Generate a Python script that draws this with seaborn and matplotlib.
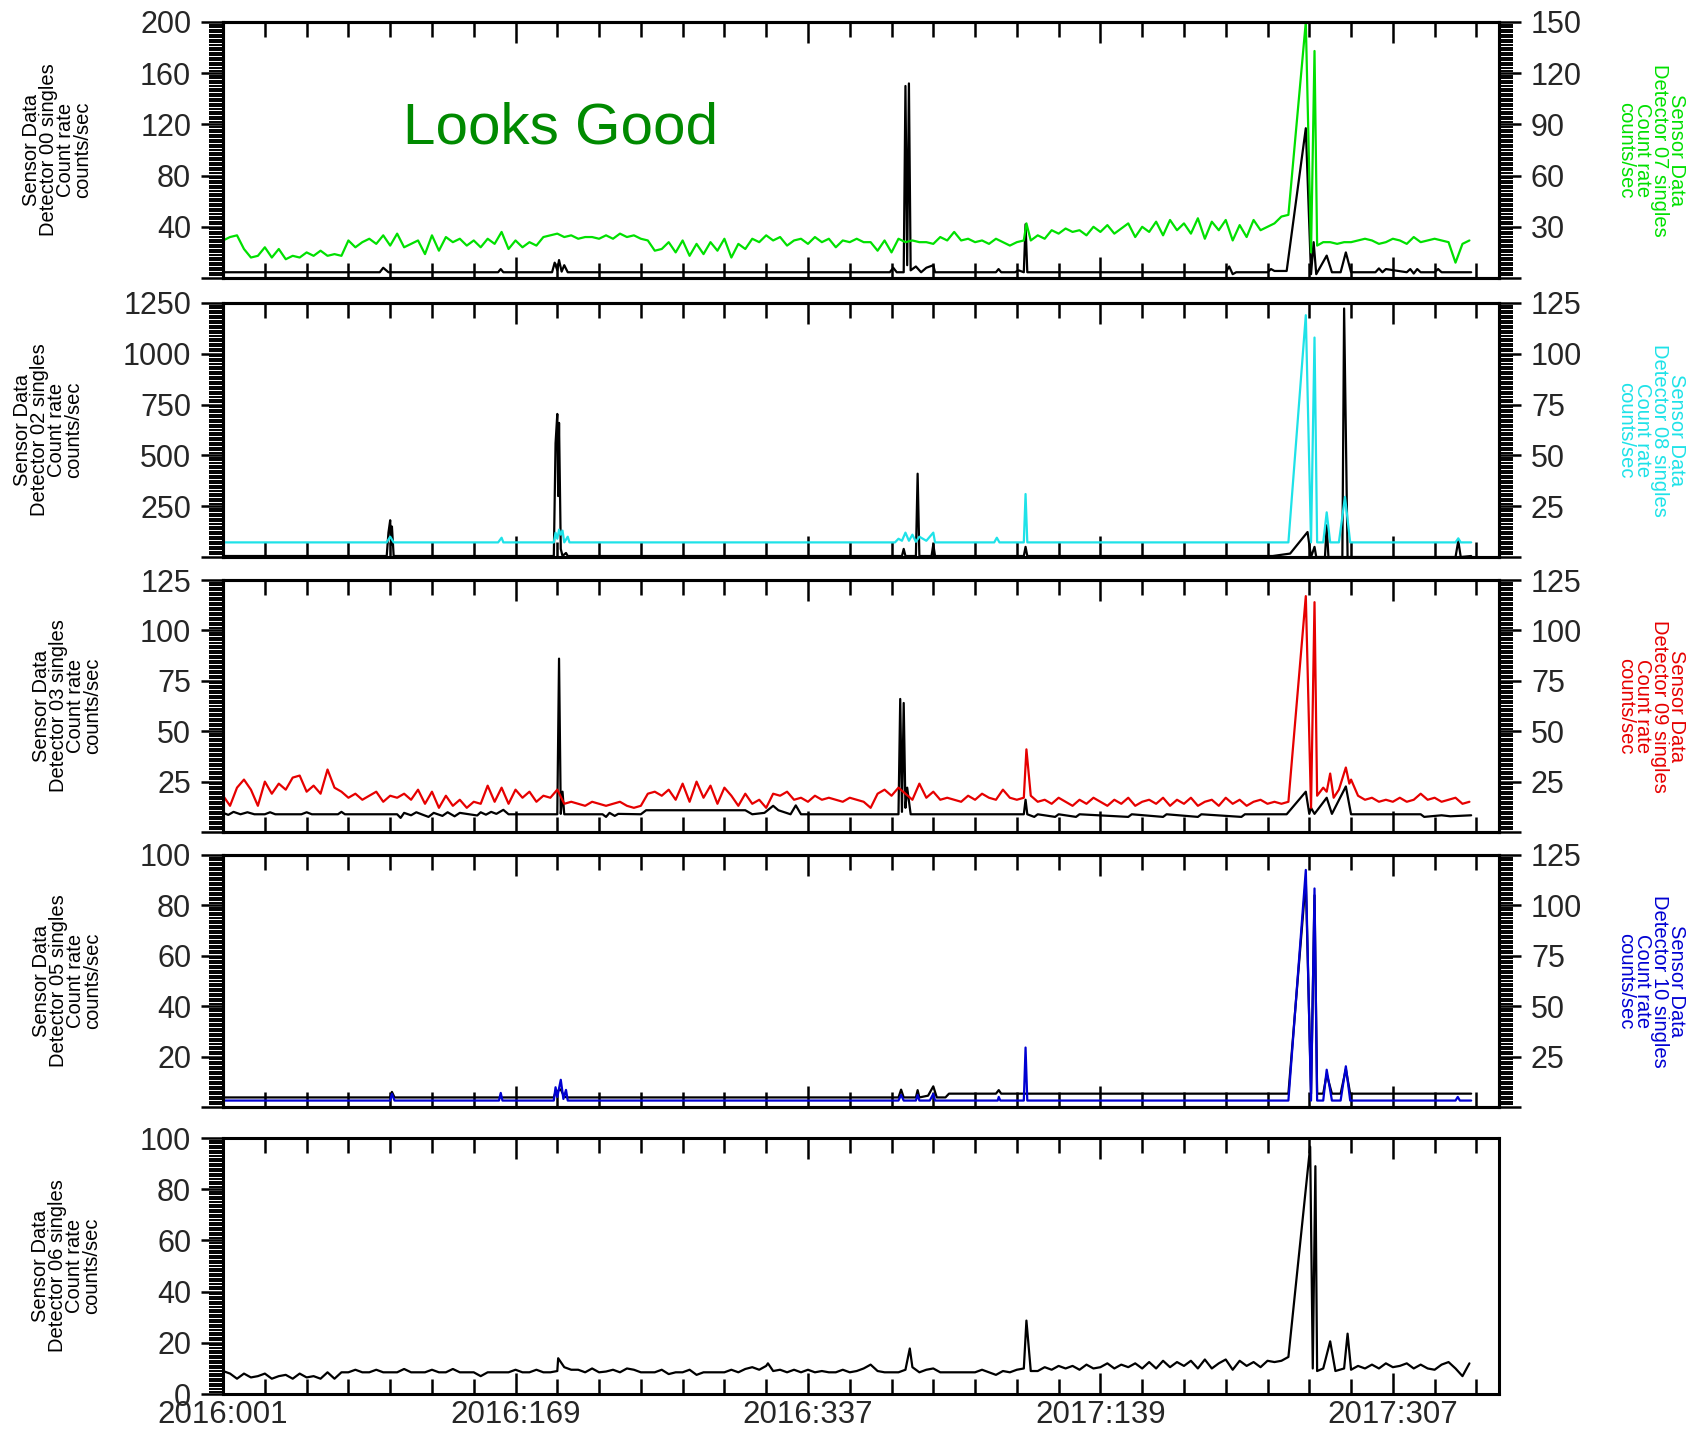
import numpy as np
import pandas as pd
import seaborn as sns
import matplotlib.pyplot as plt
from matplotlib.ticker import AutoMinorLocator, MultipleLocator

# x axis is days since 2016:001
xtick_days = [0, 168, 336, 504, 672]
xtick_labels = ["2016:001", "2016:169", "2016:337", "2017:139", "2017:307"]

# ---------------- panel 1: det 00 (black, left) / det 07 (green, right)
# det 07 sampled every 4 days from day 0 to 604
det07_vals = [22, 24, 25, 17, 12, 13, 18, 12, 17, 11,
              13, 12, 15, 13, 16, 13, 14, 13, 22, 18,
              21, 23, 20, 25, 19, 26, 18, 20, 22, 14,
              25, 16, 24, 21, 23, 19, 22, 18, 23, 20,
              27, 17, 22, 18, 21, 19, 24, 25, 26, 24,
              25, 23, 24, 24, 23, 25, 23, 26, 24, 25,
              23, 22, 16, 17, 21, 15, 22, 13, 20, 14,
              21, 16, 23, 12, 20, 17, 23, 21, 25, 22,
              24, 19, 22, 23, 20, 24, 21, 23, 18, 22,
              21, 23, 21, 21, 16, 22, 15, 23, 21, 22,
              21, 21, 20, 24, 22, 27, 22, 23, 21, 22,
              20, 23, 21, 19, 21, 22, 22, 25, 23, 28,
              26, 29, 27, 28, 25, 30, 27, 31, 26, 29,
              32, 24, 30, 27, 33, 25, 34, 28, 32, 26,
              35, 23, 33, 28, 34, 22, 31, 24, 34, 28,
              30, 32]
det07_ev_day = [461.5, 608, 612, 622, 625, 627, 628.5, 632, 636, 640, 644]
det07_ev_val = [32, 36, 37, 150, 15, 133, 19, 21, 21, 20, 21]
# every 4 days from day 648
det07_tail = [21, 22, 23, 22, 20, 21, 23, 22, 20, 24, 21, 22, 23, 22, 21, 9, 20, 22]

det00_day = [0, 90, 92, 95, 158, 159.5, 161, 189, 190.5, 192, 193, 194.5, 196, 198,
             383, 385, 387, 391, 392, 393, 394, 395, 398, 401, 404, 406, 408, 409,
             444, 445.5, 447, 455, 457, 460, 461, 462, 576, 578, 580, 582, 600, 602, 604,
             611, 622, 625, 626.5, 628, 634, 637, 642, 645, 648, 662, 664, 666, 668,
             680, 682, 684, 686, 688, 696, 698, 700, 717]
det00_val = [4.5, 4.5, 8, 4.5, 4.5, 7, 4.5, 4.5, 12, 6, 14, 5, 10, 4.5,
             4.5, 8, 4.5, 4.5, 150, 10, 152, 6, 9, 4.5, 8, 9, 10, 4.5,
             4.5, 7, 4.5, 4.5, 6, 4.5, 42, 4.5, 4.5, 9, 3, 4.5, 4.5, 7, 5.5,
             5.5, 117, 3, 28, 3, 17.5, 4.5, 4.5, 20, 4.5, 4.5, 7.5, 4.5, 7,
             4.5, 7, 3.5, 7, 4.5, 4.5, 7, 4.5, 4.5]

# ---------------- panel 2: det 02 (black, left) / det 08 (cyan, right)
det02_day = [0, 94, 95, 96, 96.5, 97, 98, 190, 191, 192, 192.5, 193, 194, 195, 197, 198,
             390, 391, 392, 398, 399, 400, 407, 408, 409, 460, 461, 462, 603, 613, 623,
             625, 627, 628, 633, 634, 635, 643, 644, 646, 708, 709.6, 711, 717]
det02_val = [5, 5, 120, 181, 60, 150, 5, 5, 560, 704, 300, 660, 40, 5, 20, 5,
             5, 40, 5, 5, 410, 5, 5, 62, 5, 5, 50, 5, 5, 17, 123,
             0, 50, 0, 0, 156, 0, 0, 1223, 0, 0, 80, 0, 5]
det08_day = [0, 94, 96, 98, 158, 160, 161, 190, 191, 192, 193, 194, 195, 196, 198, 199,
             386, 388, 390, 392, 394, 396, 398, 400, 404, 408, 409, 443, 444.5, 446,
             460, 461, 462, 612, 622, 625, 627, 628.5, 632, 634, 636, 641, 644.5, 647.5,
             708, 709.6, 711, 717]
det08_val = [7.2, 7.2, 10, 7.2, 7.2, 9.5, 7.2, 7.2, 12, 9, 13.5, 11, 13, 7.2, 10, 7.2,
             7.2, 9, 8, 12, 8, 11, 7.5, 10, 8, 12, 7.2, 7.2, 9.5, 7.2,
             7.2, 31, 7.2, 7.2, 119, 7.2, 108, 7.2, 7.2, 22, 7.2, 7.2, 29.6, 7.2,
             7.2, 9.2, 7.2, 7.2]

# ---------------- panel 3: det 03 (black, left) / det 09 (red, right)
det09_vals = [18, 13, 22, 26, 21, 13, 25, 19, 24, 21, 27, 28, 20, 23, 19, 31, 22, 20,
              17, 19, 16, 18, 20, 15, 18, 17, 19, 16,
              21, 14, 20, 12, 18,
              13, 16, 12, 15, 14,
              23, 15, 22, 14,
              21, 17, 20, 15, 18,
              17, 21,
              14, 15, 14, 13, 15, 14, 13, 14, 15, 13,
              12, 13,
              19, 20, 18, 21,
              16, 24, 15, 25, 17, 23, 14, 22,
              18, 13, 19, 14, 16, 12,
              19, 18, 20,
              16, 17, 15, 18, 16, 17, 16, 15, 17, 16,
              15, 12, 19, 21, 18, 22, 19, 16, 24, 17,
              20, 16, 17, 16, 15, 18, 16, 19, 17, 16,
              21, 17, 16, 17, 18, 15, 16, 14, 17, 15,
              13, 16, 14, 17, 15, 13, 16, 14, 17, 13,
              15, 16, 14, 17, 13, 16, 14, 17, 13, 15,
              16, 13, 17, 14, 16, 13, 15, 16, 14, 15]
det09_ev_day = [461.5, 608, 612, 622, 625, 627, 628.5, 632, 634, 636, 638, 641, 645, 647]
det09_ev_val = [41, 14, 15, 117, 12, 114, 18, 22, 20, 29, 17, 21, 32, 24]
det09_tail = [26, 18, 16, 17, 15, 16, 15, 17, 15, 16, 19, 16, 17, 15, 16, 17, 14, 15]

det03_day = [0, 3, 6, 10, 14, 18, 24, 27, 30, 45, 48, 51, 66, 68, 70,
             100, 102, 104, 108, 111, 114, 118, 121, 126, 129, 133, 136,
             146, 148, 151, 154, 157, 161, 164, 192, 193, 194, 195, 196,
             218, 220, 222, 225, 227, 240, 243, 300, 304, 311, 316, 319, 326, 329, 332,
             388, 389, 390, 391, 392, 393, 395, 460, 461, 462, 466, 468, 478, 480, 490, 492,
             520, 522, 540, 542, 560, 562, 585, 587, 611, 622, 624, 625, 627,
             634, 637, 645, 648, 688, 690, 700, 705, 717]
det03_val = [9.5, 8.5, 10, 8.8, 9.8, 8.8, 8.8, 9.8, 8.8, 8.8, 9.8, 8.8, 8.8, 10, 8.8,
             8.8, 7, 9.5, 8.3, 9.8, 8.8, 7.5, 9.5, 8, 9.8, 7.8, 9.5,
             8.2, 9.8, 8.6, 10, 9, 11, 8.8, 8.8, 86, 9, 20, 8.8,
             8.8, 7.5, 9.5, 8, 9, 8.8, 10.8, 10.8, 8.8, 9.5, 13, 10.8, 8.8, 13.2, 8.8,
             8.8, 66, 10, 64, 12, 22, 8.8, 8.8, 16, 8.8, 7.5, 8.8, 7.5, 8.8, 7.5, 8.8,
             7.5, 8.8, 7.5, 8.8, 7.5, 8.8, 7.5, 8.8, 8.8, 20, 9, 12, 9,
             17, 9, 22.6, 8.8, 8.8, 7.5, 8.3, 7.8, 8.3]

# ---------------- panel 4: det 05 (black, left) / det 10 (blue, right)
det05_day = [0, 96, 97, 98.5, 190, 191, 194, 196, 198, 388, 389.5, 391, 398, 399, 400,
             405, 408, 410, 415, 417, 444, 445.6, 447, 612, 622, 625, 627, 628.5,
             632, 634, 637, 642, 645, 647.5, 717]
det05_val = [3.8, 3.8, 6, 3.8, 3.8, 6, 7, 4, 3.8, 3.8, 6.9, 3.8, 3.8, 6.7, 3.8,
             4.5, 8.2, 3.8, 3.8, 5.3, 5.3, 6.7, 5.3, 5.3, 90, 5.3, 84, 5.3,
             5.3, 13, 5.3, 5.3, 15, 5.3, 5.3]
det10_day = [0, 96, 97, 98.5, 158.5, 159.5, 160.5, 190, 191, 192, 194, 195.5, 197, 198,
             388, 389.5, 391, 398, 399, 400, 406, 408, 409, 445, 445.6, 446.5,
             460, 461, 462, 612, 622, 625, 627, 628.5, 632, 634, 637, 642, 645, 647.5,
             708, 709.3, 710.5, 717]
det10_val = [3.2, 3.2, 6.5, 3.2, 3.2, 7, 3.2, 3.2, 9.8, 5, 13.5, 4, 8.5, 3.2,
             3.2, 6, 3.2, 3.2, 6, 3.2, 3.2, 6.5, 3.2, 3.2, 5, 3.2,
             3.2, 29.5, 3.2, 3.2, 117.6, 3.2, 108.4, 3.2, 3.2, 18.5, 3.2, 3.2, 20.2, 3.2,
             3.2, 5, 3.2, 3.2]

# ---------------- panel 5: det 06 (black)
det06_vals = [9, 8, 6, 8, 6.5, 7, 8, 6, 7, 7.5, 6, 8, 6.5, 7, 6, 8.5, 6,
              8.5, 8.5, 9.5, 8.5, 8.5, 9.5, 8.5, 8.5, 8.5, 9.8,
              8.5, 8.5, 8.5, 9.5, 8.5, 8.5, 9.8, 8.5, 8.5, 8.5,
              7, 8.5, 8.5, 8.5, 8.5, 9.5, 8.5, 8.5, 9.5, 8.5, 8.5,
              9, 10.5, 9.5, 9.5, 8.5, 10, 8.5, 8.8, 9.5, 8.5,
              10, 9.5, 8.5, 8.5, 8.5, 9.5, 7.8, 8.5, 8.5, 9.5,
              7.5, 8.5, 8.5, 8.5, 8.5, 9.5, 8.5, 9.8, 10.5, 9.5,
              11, 9, 9.5, 8.5, 9.5, 8.5, 9.5, 8.5, 9, 8.5,
              8.5, 9.5, 8.5, 9,
              10, 11.5, 9, 8.5, 8.5, 8.5, 9.5, 10.5, 8.5, 9.5,
              10, 8.5, 8.5, 8.5, 8.5, 8.5, 8.5, 9.5, 8.5, 7.5,
              9, 8.5, 9.5, 10, 9, 9, 10.5, 9.5, 11, 10,
              11, 9.5, 11.5, 10, 10.5, 12, 10, 11.5, 10.5, 12,
              10, 12.5, 10, 13, 10.5, 12.5, 11, 13, 10, 13.5,
              10, 12, 13.5, 9.5, 13, 11, 12.5, 10.5, 13, 12.5]
det06_ev_day = [192.5, 313, 394.5, 461.5, 608, 612, 624.5, 625.5, 626, 627.5, 628.5,
                632, 636, 639, 644, 646]
det06_ev_val = [14, 12, 17.8, 28.7, 13, 14.5, 96.6, 37, 10, 89, 9, 10, 20.6, 9, 10, 23.6]
det06_tail = [9.5, 11, 10, 11.5, 10, 12, 10.5, 11, 12, 10, 11.5, 10, 9.5, 11.5, 12.5, 10, 7, 12]


def gridded(vals, ev_day, ev_val, tail):
    d = np.concatenate([4 * np.arange(len(vals)), ev_day, 648 + 4 * np.arange(len(tail))])
    v = np.concatenate([vals, ev_val, tail])
    o = np.argsort(d, kind="stable")
    return pd.DataFrame({"day": d[o], "rate": v[o]})


def sparse(day, val):
    return pd.DataFrame({"day": day, "rate": val})


green = "#00e000"
cyan = "#1ee2e8"
red = "#e60000"
blue = "#0000d2"

panels = [
    dict(rect=[0.1313, 0.8064, 0.7510, 0.1783], left=sparse(det00_day, det00_val), ltop=200, lstep=40,
         right=gridded(det07_vals, det07_ev_day, det07_ev_val, det07_tail), rtop=150, rstep=30,
         color=green, lname="00", rname="07", labx=57),
    dict(rect=[0.1313, 0.6121, 0.7510, 0.1769], left=sparse(det02_day, det02_val), ltop=1250, lstep=250,
         right=sparse(det08_day, det08_val), rtop=125, rstep=25,
         color=cyan, lname="02", rname="08", labx=48),
    dict(rect=[0.1313, 0.4206, 0.7510, 0.1755], left=sparse(det03_day, det03_val), ltop=125, lstep=25,
         right=gridded(det09_vals, det09_ev_day, det09_ev_val, det09_tail), rtop=125, rstep=25,
         color=red, lname="03", rname="09", labx=67),
    dict(rect=[0.1313, 0.2291, 0.7510, 0.1755], left=sparse(det05_day, det05_val), ltop=100, lstep=20,
         right=sparse(det10_day, det10_val), rtop=125, rstep=25,
         color=blue, lname="05", rname="10", labx=67),
    dict(rect=[0.1313, 0.0292, 0.7510, 0.1783],
         left=gridded(det06_vals, det06_ev_day, det06_ev_val, det06_tail), ltop=100, lstep=20,
         right=None, lname="06", labx=66),
]

sns.set_style("white")
plt.rcParams["font.family"] = ["Liberation Sans", "DejaVu Sans"]

W, H = 1699, 1436
fig = plt.figure(figsize=(W / 100, H / 100), dpi=100)


def style_y(a, top, step, side, zero):
    ticks = list(range(0, top + 1, step))
    a.set_ylim(0, top)
    a.set_yticks(ticks)
    a.set_yticklabels([str(t) if (t or zero) else "" for t in ticks])
    a.yaxis.set_minor_locator(AutoMinorLocator(20))
    a.tick_params(axis="y", which="major", direction="out", length=16, width=1.8,
                  labelsize=22, pad=7, color="black")
    a.tick_params(axis="y", which="minor", direction="out", length=10, width=1.4, color="black")
    if side == "left":
        a.tick_params(axis="y", which="both", left=True, right=False)
    else:
        a.tick_params(axis="y", which="both", left=False, right=True)


for i, p in enumerate(panels):
    ax = fig.add_axes(p["rect"])
    sns.lineplot(data=p["left"], x="day", y="rate", ax=ax, color="black", linewidth=1.6,
                 estimator=None, sort=False)
    ax.set_xlim(0, 733)
    ax.set_xlabel("")
    ax.set_ylabel("")
    style_y(ax, p["ltop"], p["lstep"], "left", p["right"] is None)
    ax.set_xticks(xtick_days)
    ax.xaxis.set_minor_locator(MultipleLocator(24))
    ax.tick_params(axis="x", which="both", direction="in", top=True, bottom=True,
                   color="black", labelsize=22.5, pad=4)
    ax.tick_params(axis="x", which="major", length=15, width=1.8)
    ax.tick_params(axis="x", which="minor", length=11, width=1.8)
    if i == len(panels) - 1:
        ax.set_xticklabels(xtick_labels)
    else:
        ax.set_xticklabels([])
    for s in ax.spines.values():
        s.set_linewidth(2.2)
        s.set_color("black")

    cy = 1 - (p["rect"][1] + p["rect"][3] / 2)
    fig.text(p["labx"] / W, 1 - cy, "Sensor Data\nDetector %s singles\nCount rate\ncounts/sec" % p["lname"],
             rotation=90, ha="center", va="center", fontsize=14.5, linespacing=0.88,
             multialignment="center", color="black")

    if p["right"] is not None:
        tw = ax.twinx()
        sns.lineplot(data=p["right"], x="day", y="rate", ax=tw, color=p["color"], linewidth=1.6,
                     estimator=None, sort=False)
        tw.set_xlim(0, 733)
        tw.set_ylabel("")
        style_y(tw, p["rtop"], p["rstep"], "right", False)
        for s in tw.spines.values():
            s.set_linewidth(2.2)
            s.set_color("black")
        fig.text(1651 / W, 1 - cy, "Sensor Data\nDetector %s singles\nCount rate\ncounts/sec" % p["rname"],
                 rotation=270, ha="center", va="center", fontsize=14.5, linespacing=0.88,
                 multialignment="center", color=p["color"])

fig.text(403 / W, 1 - 144 / H, "Looks Good", fontsize=42, color="#008a00", ha="left", va="baseline")

fig.savefig("out.png", dpi=100)
